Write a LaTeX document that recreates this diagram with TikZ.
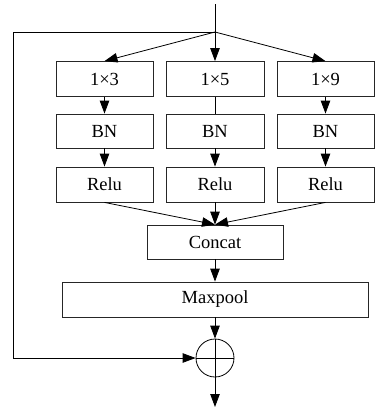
\documentclass[tikz,border=0pt]{standalone}
\usepackage{fontspec}
\setmainfont{Liberation Serif}
\usetikzlibrary{arrows.meta}
\tikzset{
  blk/.style={draw=black!85, line width=0.8pt, inner sep=0pt, minimum height=35pt, font=\fontsize{18.5}{20}\selectfont},
  arr/.style={line width=0.8pt, -{Triangle[length=13pt,width=9.5pt]}},
  ln/.style={line width=0.8pt}
}
\begin{document}
\begin{tikzpicture}[x=1pt,y=-1pt]
\useasboundingbox (0,0) rectangle (376,408);

\coordinate (in) at (215,4);
\coordinate (split) at (215,32);
\coordinate (corner) at (13,32);
\coordinate (back) at (13,358);
\coordinate (out) at (215,407);

\node[blk, minimum width=97pt] (k3) at (104.5,79) {1×3};
\node[blk, minimum width=98pt] (k5) at (215,79) {1×5};
\node[blk, minimum width=97pt] (k9) at (325.5,79) {1×9};

\node[blk, minimum width=97pt, minimum height=34pt] (bn3) at (104.5,131) {BN};
\node[blk, minimum width=98pt, minimum height=34pt] (bn5) at (215,131) {BN};
\node[blk, minimum width=97pt, minimum height=34pt] (bn9) at (325.5,131) {BN};

\node[blk, minimum width=97pt] (re3) at (104.5,184.5) {Relu};
\node[blk, minimum width=98pt] (re5) at (215,184.5) {Relu};
\node[blk, minimum width=97pt] (re9) at (325.5,184.5) {Relu};

\node[blk, minimum width=136pt, minimum height=34pt] (cat) at (215,242) {Concat};
\node[blk, minimum width=306pt] (pool) at (215,299.5) {Maxpool};
\node[draw, ln, circle, minimum size=38pt, inner sep=0pt] (sum) at (215,358) {};

\draw[ln] (in) -- (split);
\draw[arr] (split) -- (k3.north);
\draw[arr] (split) -- (k5.north);
\draw[arr] (split) -- (k9.north);

\draw[arr] (k3) -- (bn3);
\draw[ln] (k5) -- (bn5);
\draw[arr] (k9) -- (bn9);

\draw[arr] (bn3) -- (re3);
\draw[arr] (bn5) -- (re5);
\draw[arr] (bn9) -- (re9);

\draw[arr] (re3.south) -- (cat.north);
\draw[arr] (re5.south) -- (cat.north);
\draw[arr] (re9.south) -- (cat.north);

\draw[arr] (cat) -- (pool);
\draw[arr] (pool) -- (sum.north);

\draw[ln] (sum.north) -- (sum.south);
\draw[ln] (sum.west) -- (sum.east);
\draw[arr] (sum.south) -- (out);

\draw[ln] (split) -- (corner) -- (back);
\draw[arr] (back) -- (sum.west);
\end{tikzpicture}
\end{document}
